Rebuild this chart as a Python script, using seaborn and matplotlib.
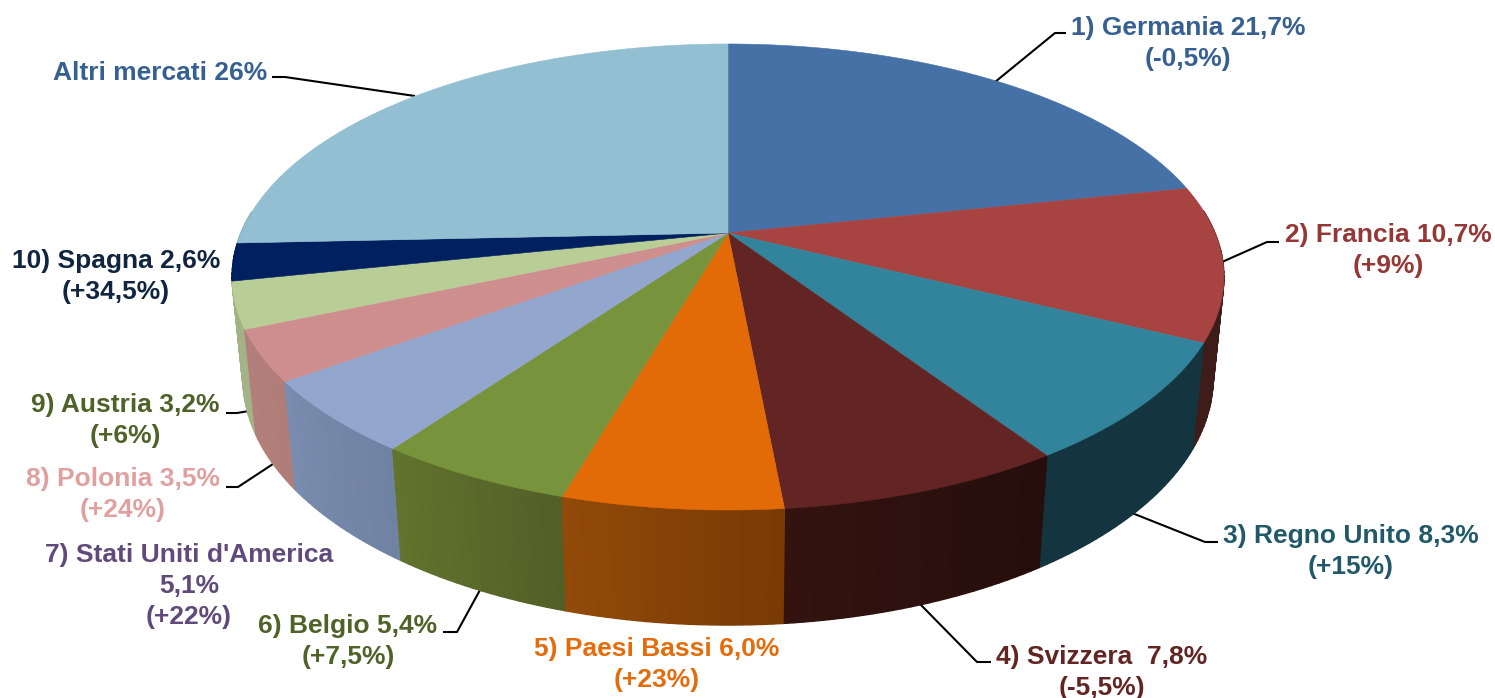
from matplotlib import pyplot as plt
import seaborn as sns
import numpy as np

# share of each market, clockwise from 12 o'clock
values = [21.7, 10.7, 8.3, 7.8, 6.0, 5.4, 5.1, 3.5, 3.2, 2.6, 25.7]
labels = ["1) Germania 21,7%\n(-0,5%)", "2) Francia 10,7%\n(+9%)", "3) Regno Unito 8,3%\n(+15%)",
          "4) Svizzera  7,8%\n(-5,5%)", "5) Paesi Bassi 6,0%\n(+23%)", "6) Belgio 5,4%\n(+7,5%)",
          "7) Stati Uniti d'America\n5,1%\n(+22%)", "8) Polonia 3,5%\n(+24%)", "9) Austria 3,2%\n(+6%)",
          "10) Spagna 2,6%\n(+34,5%)", "Altri mercati 26%"]
top_colors = ["#4671A6", "#A74341", "#31849B", "#632523", "#E26B08", "#77933C",
              "#93A6CD", "#CE8E8D", "#B9CD96", "#002060", "#92C0D2"]
side_start = ["#2F4C70", "#3E1C1A", "#14343F", "#250E0C", "#783A04", "#525F27",
              "#7082A2", "#B07D78", "#A4B287", "#001540", "#6A8C99"]
side_end = ["#2F4C70", "#3E1C1A", "#14343F", "#33130F", "#924A0A", "#62742E",
            "#7A8CAF", "#B27F7B", "#A4B287", "#001540", "#6A8C99"]
text_colors = ["#376092", "#953735", "#215968", "#632523", "#E46C0A", "#4F6228",
               "#604A7B", "#E0A0A0", "#4F6228", "#10253F", "#376092"]
# centre x and first line baseline of each label
label_x = [1188, 1388, 1351, 1102, 657, 348, 189, 123, 125, 116, 160]
label_y = [35, 242, 543, 664, 656, 633, 562, 486, 412, 268, 80]
leader_x = [[995, 1055, 1066], [1222, 1267, 1279], [1132, 1205, 1218], [920, 977, 991],
            [480, 457, 443], [273, 238, 226], [249, 237, 226], [415, 285, 272]]
leader_y = [[82, 33, 33], [262, 242, 242], [513, 542, 542], [604, 662, 662],
            [590, 632, 632], [464, 487, 487], [411, 413, 413], [96, 77, 77]]

# perspective of the disc, fitted on the picture
CX, CY = 728, 233
R, B, K = 487, 224.7, 0.1888
DROP_W, DROP_Y = 0.0216, 101.8
LINE_STEP = 31


def project(theta, depth=0.0):
    u, v = np.sin(theta), np.cos(theta)
    w = 1 + K * v + DROP_W * depth
    return CX + R * u / w, CY + (-B * v + DROP_Y * depth) / w


sns.set_theme(style="white")
plt.rcParams["font.family"] = ["Liberation Sans", "DejaVu Sans"]

fig, ax = plt.subplots(figsize=(14.95, 6.98), dpi=100)
fig.subplots_adjust(0, 0, 1, 1)
ax.set_xlim(0, 1495)
ax.set_ylim(698, 0)
ax.axis("off")

edges = np.radians(np.concatenate([[0], np.cumsum(values)]) * 360 / sum(values))

# side wall, far strips first so the near ones stay on top
strips = []
for i in range(len(values)):
    c0 = np.array(sns.color_palette([side_start[i]])[0])
    c1 = np.array(sns.color_palette([side_end[i]])[0])
    n = max(int(np.degrees(edges[i + 1] - edges[i])), 2)
    steps = np.linspace(edges[i], edges[i + 1], n + 1)
    for j in range(n):
        if np.cos((steps[j] + steps[j + 1]) / 2) < 0.1:
            strips.append((steps[j], steps[j + 1], c0 + (c1 - c0) * (j + 0.5) / n))
strips.sort(key=lambda s: -np.cos((s[0] + s[1]) / 2))
for a, b, col in strips:
    xa, ya = project(a)
    xb, yb = project(b)
    xc, yc = project(b, 1)
    xd, yd = project(a, 1)
    ax.fill([xa, xb, xc, xd], [ya, yb, yc, yd], color=col, lw=1.0, zorder=2)

# top face
for i, col in enumerate(top_colors):
    t = np.linspace(edges[i], edges[i + 1], 120)
    x, y = project(t)
    ax.fill(np.r_[CX, x], np.r_[CY, y], color=col, lw=0.4, zorder=3)

for xs, ys in zip(leader_x, leader_y):
    ax.plot(xs, ys, color="black", lw=1.5, zorder=1, solid_capstyle="butt")

for text, x, y, col in zip(labels, label_x, label_y, text_colors):
    for k, line in enumerate(text.split("\n")):
        ax.text(x, y + k * LINE_STEP, line, color=col, fontsize=19, fontweight="bold",
                ha="center", va="baseline", zorder=4)

plt.savefig("out.png", dpi=100)
plt.close()
